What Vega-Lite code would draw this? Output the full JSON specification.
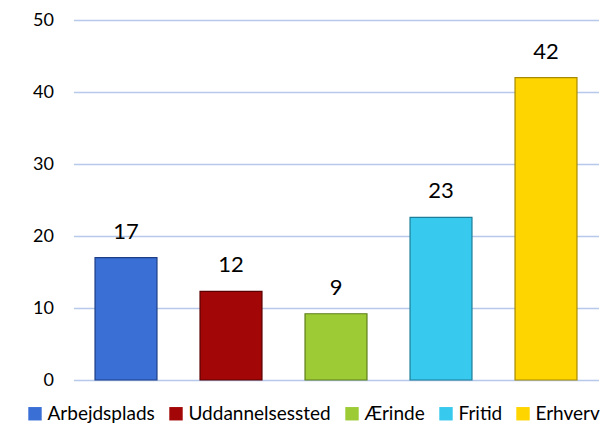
{
  "$schema": "https://vega.github.io/schema/vega-lite/v6.json",
  "autosize": {"type": "none"},
  "width": 525,
  "height": 360,
  "padding": {"left": 73.5, "top": 20, "right": 2.5, "bottom": 45},
  "background": "white",
  "data": {
    "values": [
      {"kategori": "Arbejdsplads", "antal": 17.0},
      {"kategori": "Uddannelsessted", "antal": 12.3},
      {"kategori": "Ærinde", "antal": 9.2},
      {"kategori": "Fritid", "antal": 22.6},
      {"kategori": "Erhverv", "antal": 42.0}
    ]
  },
  "encoding": {
    "x": {
      "field": "kategori",
      "type": "nominal",
      "sort": null,
      "scale": {"paddingInner": 0.41, "paddingOuter": 0.205},
      "axis": null
    },
    "y": {
      "field": "antal",
      "type": "quantitative",
      "scale": {"domain": [0, 50]},
      "axis": {
        "values": [0, 10, 20, 30, 40, 50],
        "title": null,
        "domain": false,
        "ticks": false,
        "labelPadding": 20,
        "labelFont": "Lato",
        "labelFontSize": 18,
        "labelColor": "#000000",
        "gridColor": "#B7C9EA",
        "gridWidth": 1.5
      }
    }
  },
  "layer": [
    {
      "mark": {"type": "bar", "strokeWidth": 1.2},
      "encoding": {
        "color": {
          "field": "kategori",
          "type": "nominal",
          "sort": null,
          "scale": {
            "domain": ["Arbejdsplads", "Uddannelsessted", "Ærinde", "Fritid", "Erhverv"],
            "range": ["#3A6FD6", "#A30606", "#9CCB36", "#38C9EE", "#FFD500"]
          },
          "legend": {
            "orient": "none",
            "direction": "horizontal",
            "legendX": -48,
            "legendY": 384,
            "title": null,
            "symbolType": "square",
            "symbolSize": 180,
            "symbolStrokeWidth": 0,
            "labelFont": "Lato",
            "labelFontSize": 19,
            "labelColor": "#000000",
            "columnPadding": 11,
            "labelOffset": 3
          }
        },
        "stroke": {
          "field": "kategori",
          "type": "nominal",
          "sort": null,
          "scale": {
            "domain": ["Arbejdsplads", "Uddannelsessted", "Ærinde", "Fritid", "Erhverv"],
            "range": ["#1E3F85", "#5A0000", "#5E7F1A", "#1C7E98", "#A88A00"]
          },
          "legend": null
        }
      }
    },
    {
      "mark": {"type": "text", "baseline": "alphabetic", "dy": -19, "font": "Lato", "fontSize": 22, "color": "#000000"},
      "encoding": {
        "text": {"field": "antal", "type": "quantitative", "format": ".0f"}
      }
    }
  ],
  "config": {"view": {"stroke": null}}
}
